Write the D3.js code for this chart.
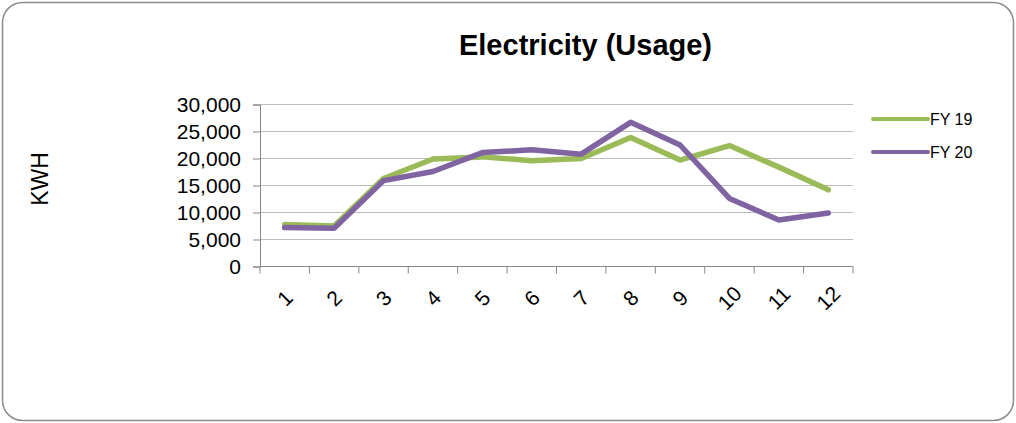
<!DOCTYPE html>
<html>
<head>
<meta charset="utf-8">
<script src="https://cdn.jsdelivr.net/npm/d3@7"></script>
<style>
  html, body { margin: 0; padding: 0; background: #fff; }
  svg { display: block; font-family: "Liberation Sans", Arial, sans-serif; }
</style>
</head>
<body>
<svg id="chart" width="1016" height="423"></svg>
<script>
const months = ["1","2","3","4","5","6","7","8","9","10","11","12"];
const fy19 = [7800, 7500, 16300, 19900, 20300, 19600, 20000, 23900, 19700, 22400, 18400, 14200];
const fy20 = [7200, 7100, 15900, 17600, 21100, 21600, 20800, 26700, 22500, 12600, 8600, 9900];
const seriesNames = ["FY 19", "FY 20"];
const seriesColors = ["#9BBB59", "#8064A2"];
const yTicks = [0, 5000, 10000, 15000, 20000, 25000, 30000];
const chartTitle = "Electricity (Usage)";
const yTitle = "KWH";

(function () {
const svg = d3.select("#chart");

// outer border
svg.append("rect")
  .attr("x", 2.5).attr("y", 2.5)
  .attr("width", 1011).attr("height", 418)
  .attr("rx", 20).attr("ry", 20)
  .attr("fill", "#fff")
  .attr("stroke", "#8c8c8c")
  .attr("stroke-width", 1.5);

const pL = 260, pR = 853, pT = 104.5, pB = 266.5;

const x = d3.scaleBand().domain(months).range([pL, pR]).padding(0);
const y = d3.scaleLinear().domain([0, 30000]).range([pB, pT]);

// gridlines
svg.append("g").selectAll("line").data(yTicks.filter(d => d > 0)).join("line")
  .attr("x1", pL).attr("x2", pR)
  .attr("y1", d => y(d)).attr("y2", d => y(d))
  .attr("stroke", "#bcbcbc").attr("stroke-width", 1);

// y axis
const yAxis = d3.axisLeft(y).tickValues(yTicks).tickFormat(d3.format(",")).tickSize(7).tickPadding(12);
const gy = svg.append("g").attr("transform", `translate(${pL},0)`).call(yAxis);
gy.select(".domain").attr("stroke", "#868686");
gy.selectAll(".tick line").attr("stroke", "#868686");
gy.selectAll("text").attr("font-size", 21).attr("fill", "#000")
  .style("font-family", '"Liberation Sans", Arial, sans-serif');

// x axis
const gx = svg.append("g");
gx.append("line").attr("x1", pL).attr("x2", pR).attr("y1", pB).attr("y2", pB)
  .attr("stroke", "#868686");
const boundaries = months.map(m => x(m)).concat([x.range()[1]]);
gx.selectAll("line.tk").data(boundaries).join("line").attr("class", "tk")
  .attr("x1", d => d).attr("x2", d => d).attr("y1", pB).attr("y2", pB + 7)
  .attr("stroke", "#868686");
gx.selectAll("text").data(months).join("text")
  .attr("transform", d => `translate(${x(d) + x.bandwidth() / 2},298) rotate(-45)`)
  .attr("text-anchor", "middle").attr("dominant-baseline", "central")
  .attr("font-size", 21).attr("fill", "#000")
  .text(d => d);

// lines
const line = d3.line().x((d, i) => x(months[i]) + x.bandwidth() / 2).y(d => y(d));
[fy19, fy20].forEach((s, k) => {
  svg.append("path").datum(s).attr("d", line)
    .attr("fill", "none").attr("stroke", seriesColors[k]).attr("stroke-width", 5.5)
    .attr("stroke-linejoin", "round").attr("stroke-linecap", "round");
});

// title
svg.append("text").attr("x", 585.5).attr("y", 55).attr("text-anchor", "middle")
  .attr("font-size", 29).attr("font-weight", "bold").attr("fill", "#000").text(chartTitle);

// y title
svg.append("text").attr("transform", "translate(48,179) rotate(-90)")
  .attr("text-anchor", "middle").attr("font-size", 23).attr("fill", "#000").text(yTitle);

// legend
const lg = svg.append("g");
seriesNames.forEach((n, k) => {
  const ly = 119 + k * 33;
  lg.append("line").attr("x1", 873).attr("x2", 928).attr("y1", ly).attr("y2", ly)
    .attr("stroke", seriesColors[k]).attr("stroke-width", 4).attr("stroke-linecap", "round");
  lg.append("text").attr("x", 930).attr("y", ly).attr("dominant-baseline", "central")
    .attr("font-size", 16).attr("fill", "#000").text(n);
});
})();
</script>
</body>
</html>
